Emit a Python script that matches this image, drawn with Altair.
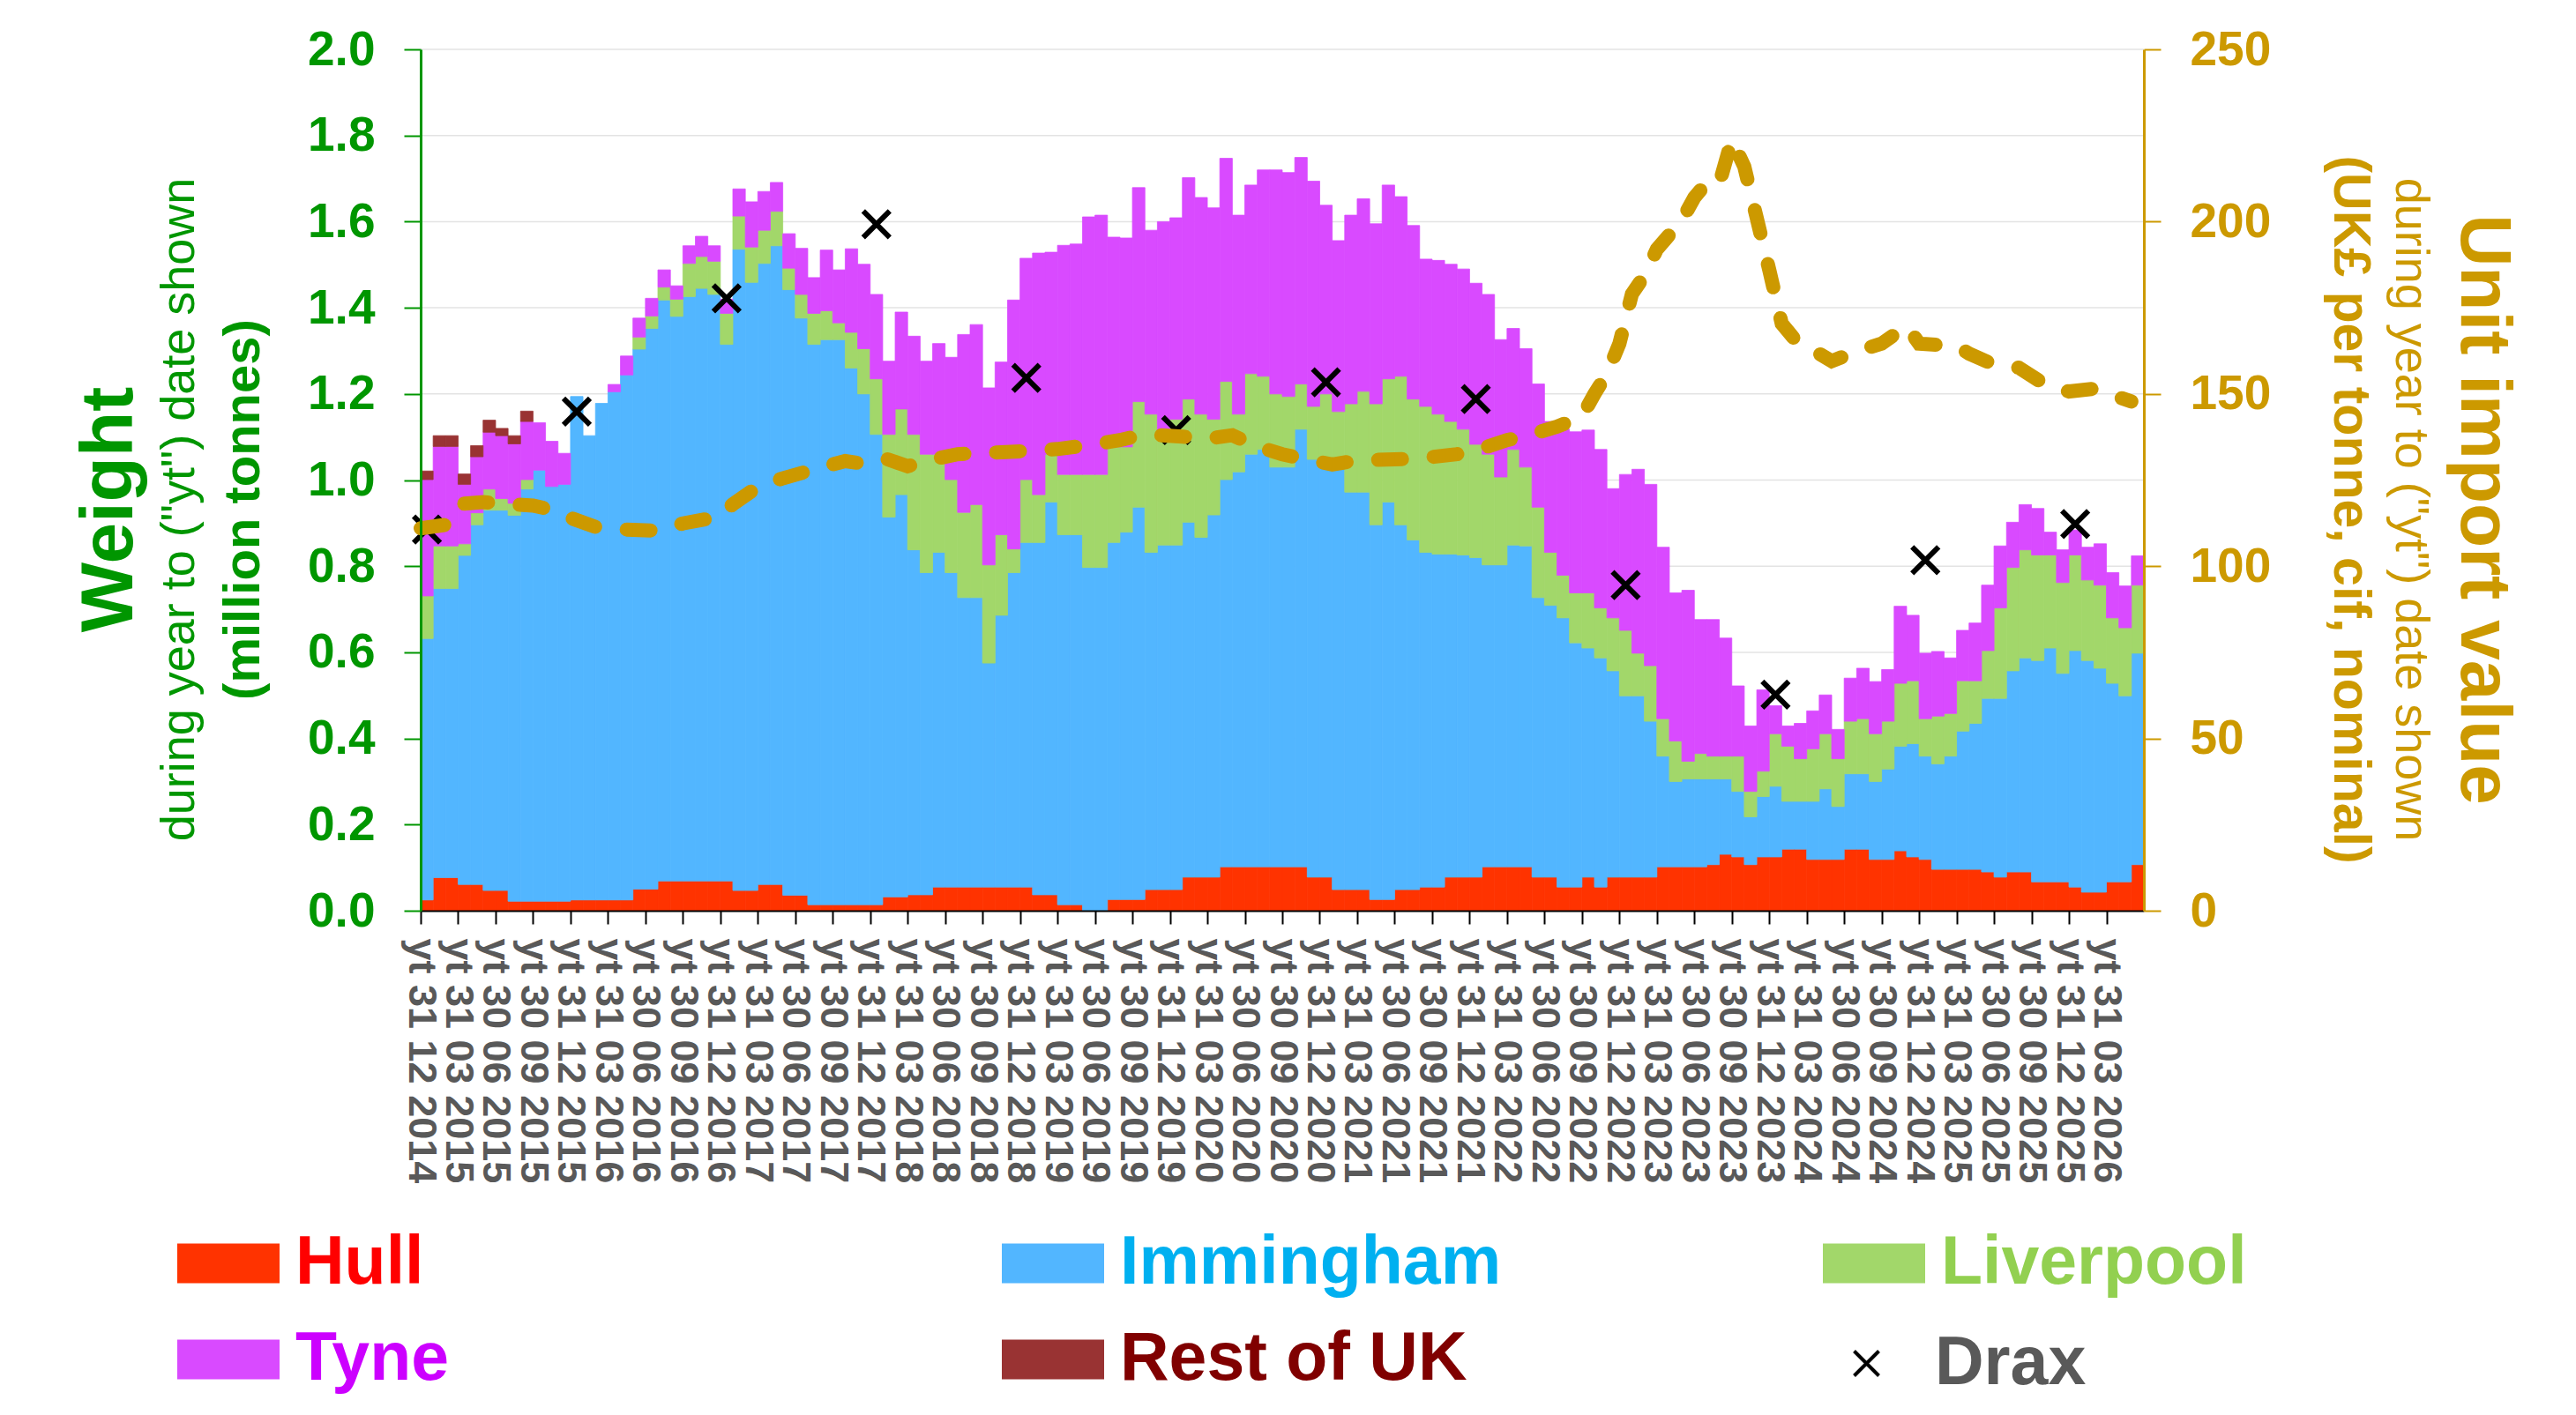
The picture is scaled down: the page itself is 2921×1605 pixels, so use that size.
import altair as alt
import pandas as pd

# ---------------- data ----------------
x_tick_labels = [
    "yt 31 12 2014",
    "yt 31 03 2015", "yt 30 06 2015", "yt 30 09 2015", "yt 31 12 2015",
    "yt 31 03 2016", "yt 30 06 2016", "yt 30 09 2016", "yt 31 12 2016",
    "yt 31 03 2017", "yt 30 06 2017", "yt 30 09 2017", "yt 31 12 2017",
    "yt 31 03 2018", "yt 30 06 2018", "yt 30 09 2018", "yt 31 12 2018",
    "yt 31 03 2019", "yt 30 06 2019", "yt 30 09 2019", "yt 31 12 2019",
    "yt 31 03 2020", "yt 30 06 2020", "yt 30 09 2020", "yt 31 12 2020",
    "yt 31 03 2021", "yt 30 06 2021", "yt 30 09 2021", "yt 31 12 2021",
    "yt 31 03 2022", "yt 30 06 2022", "yt 30 09 2022", "yt 31 12 2022",
    "yt 31 03 2023", "yt 30 06 2023", "yt 30 09 2023", "yt 31 12 2023",
    "yt 31 03 2024", "yt 30 06 2024", "yt 30 09 2024", "yt 31 12 2024",
    "yt 31 03 2025", "yt 30 06 2025", "yt 30 09 2025", "yt 31 12 2025",
    "yt 31 03 2026",
]

# stacked levels (million tonnes), one value per month from yt Dec 2014
hull_top = [
    0.025, 0.077, 0.077, 0.061, 0.061, 0.047, 0.047, 0.022, 0.022, 0.022,
    0.022, 0.022, 0.025, 0.025, 0.025, 0.025, 0.025, 0.050, 0.050, 0.069,
    0.069, 0.069, 0.069, 0.069, 0.069, 0.047, 0.047, 0.061, 0.061, 0.036,
    0.036, 0.014, 0.014, 0.014, 0.014, 0.014, 0.014, 0.032, 0.032, 0.037,
    0.037, 0.055, 0.055, 0.055, 0.055, 0.055, 0.055, 0.055, 0.055, 0.037,
    0.037, 0.014, 0.014, 0.000, 0.000, 0.026, 0.026, 0.026, 0.049, 0.049,
    0.049, 0.078, 0.078, 0.078, 0.102, 0.102, 0.102, 0.102, 0.102, 0.102,
    0.102, 0.078, 0.078, 0.049, 0.049, 0.049, 0.026, 0.026, 0.049, 0.049,
    0.055, 0.055, 0.078, 0.078, 0.078, 0.102, 0.102, 0.102, 0.102, 0.078,
    0.078, 0.055, 0.055, 0.078, 0.055, 0.078, 0.078, 0.078, 0.078, 0.102,
    0.102, 0.102, 0.102, 0.107, 0.131, 0.125, 0.107, 0.125, 0.125, 0.143,
    0.143, 0.119, 0.119, 0.119, 0.143, 0.143, 0.119, 0.119, 0.139, 0.125,
    0.119, 0.096, 0.096, 0.096, 0.096, 0.090, 0.078, 0.090, 0.090, 0.067,
    0.067, 0.067, 0.055, 0.043, 0.043, 0.067, 0.067, 0.107,
]
immingham_top = [
    0.632, 0.748, 0.748, 0.825, 0.896, 0.930, 0.930, 0.918, 0.979, 1.023,
    0.985, 0.990, 1.194, 1.103, 1.178, 1.205, 1.244, 1.304, 1.352, 1.418,
    1.380, 1.426, 1.445, 1.431, 1.315, 1.536, 1.459, 1.503, 1.544, 1.442,
    1.376, 1.315, 1.326, 1.326, 1.260, 1.200, 1.106, 0.914, 0.966, 0.838,
    0.785, 0.832, 0.785, 0.727, 0.727, 0.575, 0.686, 0.785, 0.855, 0.855,
    0.949, 0.873, 0.873, 0.797, 0.797, 0.855, 0.879, 0.937, 0.832, 0.849,
    0.849, 0.902, 0.867, 0.919, 1.001, 1.019, 1.060, 1.071, 1.030, 1.030,
    1.118, 1.048, 1.048, 1.030, 0.972, 0.972, 0.896, 0.949, 0.896, 0.861,
    0.832, 0.828, 0.828, 0.826, 0.820, 0.803, 0.803, 0.849, 0.847, 0.727,
    0.709, 0.680, 0.622, 0.610, 0.587, 0.557, 0.499, 0.499, 0.440, 0.359,
    0.300, 0.306, 0.306, 0.306, 0.306, 0.277, 0.218, 0.265, 0.289, 0.254,
    0.254, 0.254, 0.283, 0.242, 0.318, 0.318, 0.300, 0.329, 0.382, 0.388,
    0.359, 0.341, 0.359, 0.417, 0.435, 0.493, 0.493, 0.557, 0.587, 0.581,
    0.610, 0.551, 0.604, 0.581, 0.563, 0.528, 0.499, 0.598,
]
liverpool_top = [
    0.731, 0.847, 0.847, 0.852, 0.924, 0.979, 0.957, 0.946, 1.001, 1.023,
    0.985, 0.990, 1.194, 1.103, 1.178, 1.205, 1.244, 1.332, 1.381, 1.448,
    1.420, 1.503, 1.519, 1.508, 1.387, 1.613, 1.541, 1.580, 1.624, 1.492,
    1.431, 1.387, 1.393, 1.365, 1.343, 1.305, 1.235, 1.106, 1.165, 1.106,
    1.060, 1.060, 1.001, 0.925, 0.943, 0.803, 0.873, 0.840, 1.001, 0.966,
    1.060, 1.013, 1.013, 1.013, 1.013, 1.077, 1.077, 1.182, 1.153, 1.106,
    1.141, 1.188, 1.153, 1.141, 1.229, 1.153, 1.247, 1.241, 1.200, 1.194,
    1.223, 1.171, 1.200, 1.159, 1.177, 1.206, 1.177, 1.235, 1.241, 1.188,
    1.171, 1.153, 1.136, 1.118, 1.083, 1.060, 1.007, 1.071, 1.030, 0.937,
    0.832, 0.779, 0.738, 0.738, 0.703, 0.680, 0.651, 0.598, 0.569, 0.446,
    0.394, 0.347, 0.365, 0.359, 0.359, 0.359, 0.277, 0.324, 0.411, 0.382,
    0.353, 0.376, 0.411, 0.353, 0.440, 0.446, 0.411, 0.440, 0.528, 0.534,
    0.446, 0.452, 0.458, 0.534, 0.534, 0.604, 0.703, 0.797, 0.838, 0.826,
    0.826, 0.762, 0.826, 0.768, 0.756, 0.680, 0.657, 0.756,
]
tyne_top = [
    1.001, 1.078, 1.078, 0.990, 1.054, 1.111, 1.103, 1.084, 1.136, 1.133,
    1.090, 1.062, 1.194, 1.103, 1.178, 1.222, 1.288, 1.376, 1.422, 1.488,
    1.451, 1.544, 1.566, 1.544, 1.420, 1.676, 1.646, 1.670, 1.691, 1.572,
    1.538, 1.470, 1.534, 1.488, 1.537, 1.501, 1.431, 1.276, 1.390, 1.334,
    1.276, 1.317, 1.285, 1.338, 1.361, 1.214, 1.274, 1.418, 1.515, 1.527,
    1.529, 1.545, 1.548, 1.611, 1.615, 1.564, 1.562, 1.679, 1.580, 1.600,
    1.609, 1.702, 1.656, 1.632, 1.747, 1.615, 1.685, 1.720, 1.720, 1.714,
    1.749, 1.694, 1.638, 1.556, 1.615, 1.653, 1.595, 1.685, 1.658, 1.591,
    1.513, 1.510, 1.501, 1.490, 1.457, 1.431, 1.326, 1.352, 1.305, 1.223,
    1.136, 1.118, 1.112, 1.116, 1.071, 0.980, 1.013, 1.025, 0.990, 0.844,
    0.738, 0.744, 0.676, 0.676, 0.633, 0.522, 0.429, 0.513, 0.476, 0.429,
    0.435, 0.464, 0.501, 0.421, 0.540, 0.563, 0.532, 0.560, 0.707, 0.686,
    0.598, 0.602, 0.587, 0.651, 0.668, 0.756, 0.847, 0.902, 0.943, 0.934,
    0.879, 0.838, 0.884, 0.844, 0.852, 0.785, 0.754, 0.824,
]
# Rest of UK only appears in the first months
rest_month = [0, 1, 2, 3, 4, 5, 6, 7, 8]
rest_value = [0.020, 0.025, 0.025, 0.024, 0.026, 0.028, 0.017, 0.019, 0.024]

# Drax (yt December each year, million tonnes)
drax_month = [0, 12, 24, 36, 48, 60, 72, 84, 96, 108, 120, 132]
drax_weight = [0.885, 1.159, 1.422, 1.594, 1.237, 1.116, 1.227, 1.188,
               0.756, 0.502, 0.814, 0.898]

# unit import value (UK£ per tonne)
uv_month = [0, 2, 3, 5, 7, 9, 11, 12, 14, 16, 19, 21, 24, 25, 27, 29, 32, 34,
            35, 37, 39, 41, 43, 46, 49, 51, 54, 56, 58, 61, 63, 65, 67, 69,
            70, 71, 73, 75, 78, 80, 83, 85, 87, 89, 91, 93, 94, 95, 96, 97,
            98, 99, 101, 102, 103, 104, 105, 106, 107, 108, 109, 110, 113,
            115, 117, 119, 120, 123, 124, 126, 128, 130, 132, 134, 137]
uv_value = [111, 112, 118, 118.6, 118, 117.6, 116, 114, 111.4, 110.7, 110.3,
            112.4, 114.4, 118, 123, 125.5, 128.6, 130.5, 130, 131.5, 129, 131,
            132.5, 133, 133.5, 134, 135.4, 136.6, 138.3, 137.6, 137, 138,
            134.7, 132.5, 131.7, 131, 129.5, 130.7, 131, 131.3, 132.5, 134.2,
            136.6, 138.3, 140.5, 143.4, 150, 155.8, 164.6, 179, 184.3, 192,
            200.4, 207, 211.3, 211, 223.8, 216, 201, 186, 170.4, 166, 159.5,
            162.4, 164.6, 169.7, 164.6, 163.9, 161.7, 158.5, 157.6, 152.9,
            150.7, 151.5, 147.8]

weight_ticks = [0.0, 0.2, 0.4, 0.6, 0.8, 1.0, 1.2, 1.4, 1.6, 1.8, 2.0]
value_ticks = [0, 50, 100, 150, 200, 250]

# ---------------- tables ----------------
n = len(hull_top)
df = pd.DataFrame({
    "x0": list(range(n)),
    "x1": [i + 1 for i in range(n)],
    "base": [0.0] * n,
    "hull": hull_top,
    "imm": immingham_top,
    "liv": liverpool_top,
    "tyne": tyne_top,
})
rest_df = pd.DataFrame({
    "x0": rest_month,
    "x1": [m + 1 for m in rest_month],
    "lo": [tyne_top[m] for m in rest_month],
    "hi": [tyne_top[m] + v for m, v in zip(rest_month, rest_value)],
})
drax_df = pd.DataFrame({"xc": [m + 0.5 for m in drax_month], "w": drax_weight})
uv_df = pd.DataFrame({"m": uv_month, "v": uv_value})
grid_df = pd.DataFrame({"g": weight_ticks[1:]})

# ---------------- styling ----------------
FONT = "Liberation Sans"
GREEN = "#009600"
GOLD = "#CC9900"
GREY = "#595959"
SWATCH = "M-1,-0.39H1V0.39H-1Z"
XPATH = "M-1,-1L1,1M1,-1L-1,1"

label_js = "[" + ",".join("'" + s + "'" for s in x_tick_labels) + "]"
x_scale = alt.Scale(domain=[0, n], nice=False, zero=False)
x_axis = alt.Axis(
    values=list(range(0, 3 * len(x_tick_labels), 3)),
    labelExpr=label_js + "[round(datum.value / 3)]",
    labelAngle=90, labelFont=FONT, labelFontSize=45, labelFontWeight="bold",
    labelColor=GREY, labelPadding=16, labelOverlap=False, labelFlush=False,
    labelLimit=0,
    tickSize=15, tickColor="#000000", tickWidth=2,
    domainColor="#000000", domainWidth=2, grid=False, title=None, zindex=1,
)
y_scale = alt.Scale(domain=[0, 2], nice=False, zero=True)
y_axis = alt.Axis(
    orient="left", values=weight_ticks, format=".1f",
    labelFont=FONT, labelFontSize=55, labelFontWeight="bold", labelColor=GREEN,
    labelPadding=33, tickSize=19, tickColor=GREEN, tickWidth=2,
    domainColor=GREEN, domainWidth=3, grid=False, title=None, zindex=1,
)
r_scale = alt.Scale(domain=[0, 250], nice=False, zero=True)
r_axis = alt.Axis(
    orient="right", values=value_ticks, format="d",
    labelFont=FONT, labelFontSize=55, labelFontWeight="bold", labelColor=GOLD,
    labelPadding=33, tickSize=19, tickColor=GOLD, tickWidth=2,
    domainColor=GOLD, domainWidth=3, grid=False, title=None, zindex=1,
)

ROW1, ROW2 = 1319, 1428
COL1, COL2, COL3 = -276, 659, 1590


def legend(label_color, lx, ly, symbol=SWATCH, size=13456, offset=18, sw=0):
    return alt.Legend(
        title=None, orient="none", legendX=lx, legendY=ly, padding=0,
        symbolType=symbol, symbolSize=size, symbolStrokeWidth=sw,
        labelFont=FONT, labelFontSize=77, labelFontWeight="bold",
        labelColor=label_color, labelOffset=offset, labelLimit=0,
    )


def band(data, name, lo, hi, fill, label_color, lx, ly):
    return (
        alt.Chart(data)
        .transform_filter(f"datum.{hi} > datum.{lo}")
        .transform_calculate(port=f"'{name}'")
        .mark_bar(stroke=fill, strokeWidth=0.8)
        .encode(
            x=alt.X("x0:Q", scale=x_scale, axis=x_axis),
            x2="x1:Q",
            y=alt.Y(f"{lo}:Q", scale=y_scale, axis=y_axis),
            y2=f"{hi}:Q",
            color=alt.Color("port:N",
                            scale=alt.Scale(domain=[name], range=[fill]),
                            legend=legend(label_color, lx, ly)),
        )
    )


grid = alt.Chart(grid_df).mark_rule(color="#E3E3E3", strokeWidth=1.5).encode(
    y=alt.Y("g:Q", scale=y_scale, axis=y_axis)
)
hull = band(df, "Hull", "base", "hull", "#FF3300", "#FF0000", COL1, ROW1)
imm = band(df, "Immingham", "hull", "imm", "#52B6FF", "#00B0F0", COL2, ROW1)
liv = band(df, "Liverpool", "imm", "liv", "#A2D76A", "#92D050", COL3, ROW1)
tyne = band(df, "Tyne", "liv", "tyne", "#D94AFF", "#CC00FF", COL1, ROW2)
rest = band(rest_df, "Rest of UK", "lo", "hi", "#993333", "#800000", COL2, ROW2)

drax = (
    alt.Chart(drax_df)
    .transform_calculate(port="'Drax'")
    .mark_point(shape=XPATH, filled=False, size=900, strokeWidth=6, opacity=1)
    .encode(
        x=alt.X("xc:Q", scale=x_scale, axis=x_axis),
        y=alt.Y("w:Q", scale=y_scale, axis=y_axis),
        color=alt.Color("port:N",
                        scale=alt.Scale(domain=["Drax"], range=["#000000"]),
                        legend=legend(GREY, 1601, ROW2 + 24, symbol=XPATH,
                                      size=784, offset=39, sw=4)),
    )
)

weights = alt.layer(grid, hull, imm, liv, tyne, rest, drax).resolve_scale(
    color="independent"
)

unit_line = alt.Chart(uv_df).mark_line(
    color=GOLD, strokeWidth=16, strokeDash=[27, 36], strokeCap="round"
).encode(
    x=alt.X("m:Q", scale=x_scale, axis=x_axis),
    y=alt.Y("v:Q", scale=r_scale, axis=r_axis),
)


def title_text(text, x, size, weight, color, angle):
    return alt.Chart(pd.DataFrame({"t": [text]})).mark_text(
        font=FONT, fontSize=size, fontWeight=weight, color=color,
        angle=angle, align="center", baseline="middle",
    ).encode(x=alt.value(x), y=alt.value(522), text="t:N")


sub = 'during year to ("yt") date shown'
titles = [
    title_text("Weight", -352, 84, "bold", GREEN, 270),
    title_text(sub, -273, 54, "normal", GREEN, 270),
    title_text("(million tonnes)", -200, 58, "bold", GREEN, 270),
    title_text("Unit import value", 2339, 82, "bold", GOLD, 90),
    title_text(sub, 2256, 54, "normal", GOLD, 90),
    title_text("(UK£ per tonne, cif, nominal)", 2188, 59, "bold", GOLD, 90),
]

chart = (
    alt.layer(weights, unit_line, *titles)
    .resolve_scale(y="independent", color="independent")
    .properties(
        width=1954, height=977,
        autosize=alt.AutoSizeParams(type="none"),
        padding={"left": 469, "top": 48, "right": 470, "bottom": 562},
        background="#FFFFFF",
    )
    .configure_view(stroke=None)
)

chart.save("out.html", embed_options={"renderer": "svg", "actions": False})
